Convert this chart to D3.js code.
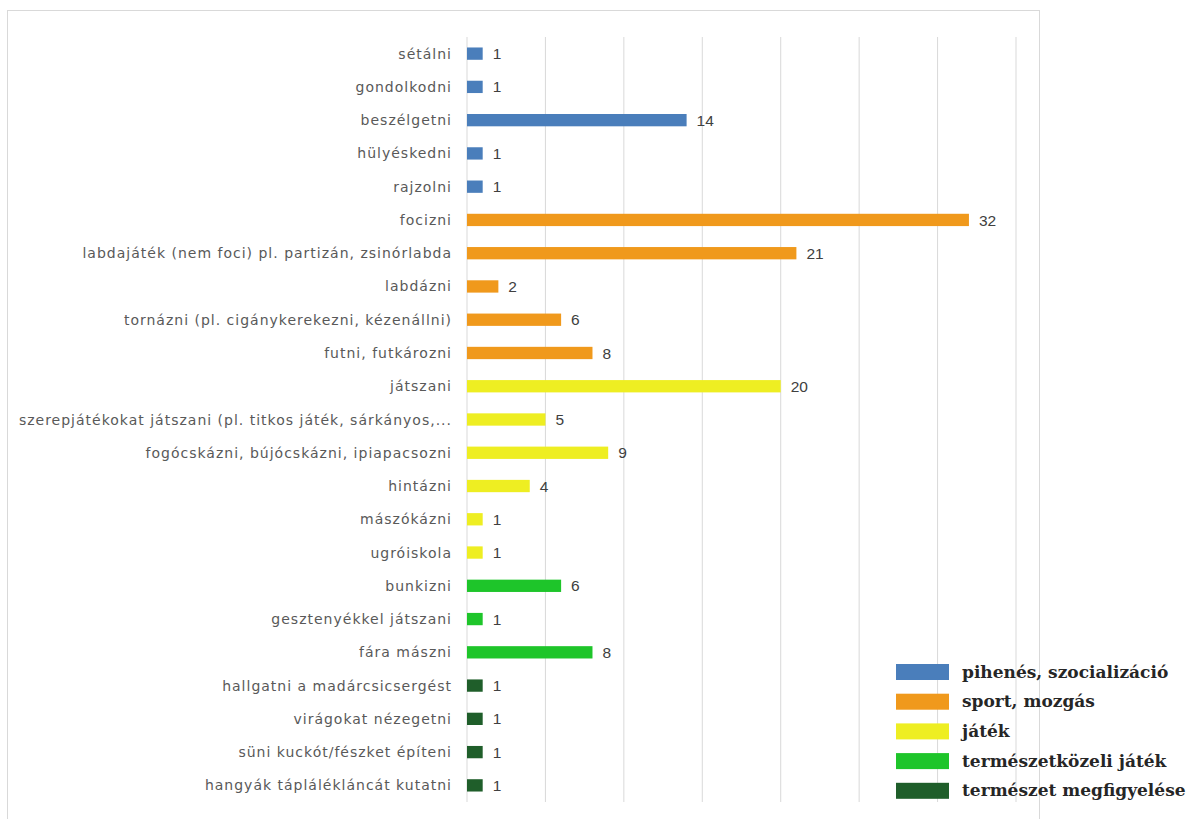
<!DOCTYPE html>
<html><head><meta charset="utf-8">
<script src="https://cdn.jsdelivr.net/npm/d3@7"></script>
<style>body{margin:0;background:#fff;}svg{display:block;}</style>
</head><body>
<script>
const categories = ["sétálni","gondolkodni","beszélgetni","hülyéskedni","rajzolni","focizni","labdajáték (nem foci) pl. partizán, zsinórlabda","labdázni","tornázni (pl. cigánykerekezni, kézenállni)","futni, futkározni","játszani","szerepjátékokat játszani (pl. titkos játék, sárkányos,...","fogócskázni, bújócskázni, ipiapacsozni","hintázni","mászókázni","ugróiskola","bunkizni","gesztenyékkel játszani","fára mászni","hallgatni a madárcsicsergést","virágokat nézegetni","süni kuckót/fészket építeni","hangyák táplálékláncát kutatni"];
const values = [1,1,14,1,1,32,21,2,6,8,20,5,9,4,1,1,6,1,8,1,1,1,1];
const groupOf = [0,0,0,0,0,1,1,1,1,1,2,2,2,2,2,2,3,3,3,4,4,4,4];
const groups = ["pihenés, szocializáció","sport, mozgás","játék","természetközeli játék","természet megfigyelése"];
const groupColors = ["#4a7ebb","#f0991c","#eeee22","#1ec52a","#1f5e2a"];
const xTicks = [0,5,10,15,20,25,30,35];

const W=1190,H=819;
const svg=d3.select("body").append("svg").attr("width",W).attr("height",H);
svg.append("rect").attr("x",7.5).attr("y",10.5).attr("width",1032).attr("height",820)
  .attr("fill","#fff").attr("stroke","#d9d9d9");

const x=d3.scaleLinear().domain([0,35]).range([467,1016]);
const y=d3.scaleBand().domain(categories).range([37,802]).paddingInner(0.63).paddingOuter(0.315);
const color=d3.scaleOrdinal().domain(d3.range(5)).range(groupColors);

const g=svg.append("g");
g.selectAll("line.grid").data(xTicks).join("line").attr("class","grid")
  .attr("x1",d=>x(d)).attr("x2",d=>x(d)).attr("y1",37).attr("y2",802)
  .attr("stroke","#d9d9d9").attr("stroke-width",1);

g.selectAll("rect.bar").data(values).join("rect").attr("class","bar")
  .attr("x",x(0)).attr("y",(d,i)=>y(categories[i])).attr("height",y.bandwidth())
  .attr("width",d=>x(d)-x(0)).attr("fill",(d,i)=>color(groupOf[i]));

g.selectAll("text.val").data(values).join("text").attr("class","val")
  .attr("x",d=>x(d)+10).attr("y",(d,i)=>y(categories[i])+y.bandwidth()/2)
  .attr("dy","0.36em").attr("font-family","Liberation Sans, Arial, sans-serif")
  .attr("font-size",15.5).attr("fill","#404040").text(d=>d);

g.selectAll("text.cat").data(categories).join("text").attr("class","cat")
  .attr("x",452).attr("y",d=>y(d)+y.bandwidth()/2).attr("dy","0.36em")
  .attr("text-anchor","end").attr("font-family","DejaVu Sans, sans-serif")
  .attr("font-size",14).attr("letter-spacing","1.0px").attr("fill","#595959").text(d=>d);

const leg=svg.append("g");
groups.forEach((name,i)=>{
  const yy=672+i*29.7;
  leg.append("rect").attr("x",896).attr("y",yy-8).attr("width",53).attr("height",16).attr("fill",groupColors[i]);
  leg.append("text").attr("x",962).attr("y",yy).attr("dy","0.33em")
    .attr("font-family","DejaVu Serif, serif").attr("font-weight","bold").attr("font-size",17)
    .attr("fill","#262626").text(name);
});
</script>
</body></html>
